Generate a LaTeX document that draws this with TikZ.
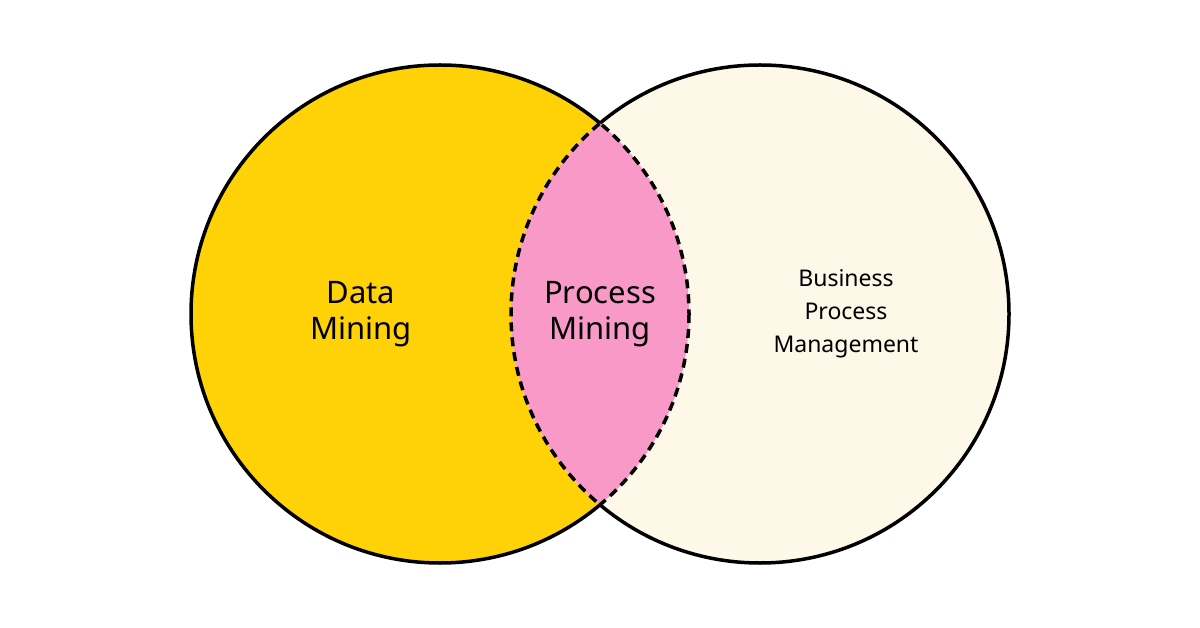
\documentclass[tikz,border=0pt]{standalone}
\usepackage{fontspec}
\setmainfont{Noto Sans}
\definecolor{dmyellow}{HTML}{FFD207}
\definecolor{bpmcream}{HTML}{FDF8E7}
\definecolor{pmpink}{HTML}{F899C8}
\begin{document}
\begin{tikzpicture}[x=1pt,y=-1pt,
  lbl/.style={font=\bfseries\fontsize{31}{36}\selectfont,align=center},
  lbls/.style={font=\bfseries\fontsize{23}{33}\selectfont,align=center}]
\useasboundingbox (0,0) rectangle (1200,628);
\fill[white] (0,0) rectangle (1200,628);
\def\L{(440,314) circle[radius=249]}
\def\R{(760,314) circle[radius=249]}
\fill[dmyellow] \L;
\fill[bpmcream] \R;
\begin{scope}\clip \L; \fill[pmpink] \R;\end{scope}
% solid outer arcs
\begin{scope}[even odd rule]\clip (0,0) rectangle (1200,628) \R;
  \draw[line width=3.5pt] \L;\end{scope}
\begin{scope}[even odd rule]\clip (0,0) rectangle (1200,628) \L;
  \draw[line width=3.5pt] \R;\end{scope}
% dashed lens
\begin{scope}\clip \R; \draw[line width=3.5pt,dash pattern=on 9pt off 6pt] \L;\end{scope}
\begin{scope}\clip \L; \draw[line width=3.5pt,dash pattern=on 9pt off 6pt] \R;\end{scope}
\node[lbl] (dm) at (361,314) {Data\\Mining};
\node[lbl] (pm) at (600,314) {Process\\Mining};
\node[lbls] (bpm) at (846,314) {Business\\Process\\Management};
\end{tikzpicture}
\end{document}
